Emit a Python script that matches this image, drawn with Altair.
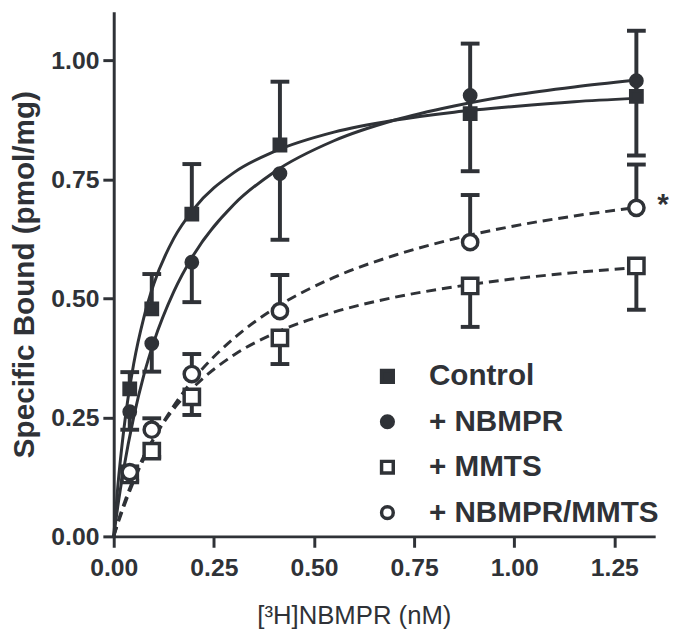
import altair as alt
import pandas as pd

C = "#2f3237"
FONT = "Liberation Sans"

series_names = ["Control", "+ NBMPR", "+ MMTS", "+ NBMPR/MMTS"]
filled_series = ["Control", "+ NBMPR"]
open_series = ["+ MMTS", "+ NBMPR/MMTS"]

# measured concentrations (nM)
conc = [0.04, 0.095, 0.195, 0.415, 0.89, 1.305]

control = [0.310, 0.478, 0.677, 0.822, 0.888, 0.924]
control_err = [0.035, 0.073, 0.105, 0.133, 0.147, 0.138]
nbmpr = [0.262, 0.405, 0.576, 0.762, 0.926, 0.957]
nbmpr_err = [0.038, 0.059, 0.084, 0.139, 0.159, 0.157]
mmts = [0.129, 0.179, 0.293, 0.417, 0.526, 0.568]
mmts_err = [0.012, 0.012, 0.038, 0.055, 0.086, 0.092]
nbmpr_mmts = [0.135, 0.224, 0.341, 0.473, 0.618, 0.690]
nbmpr_mmts_err = [0.012, 0.024, 0.042, 0.076, 0.099, 0.091]
# error bar direction drawn (+1 up, -1 down)
err_dir = [1, -1, -1, 1]

# fitted curves
curve_x = [0, 0.01, 0.025, 0.05, 0.075, 0.1, 0.15, 0.2, 0.3, 0.4, 0.55, 0.7, 0.85, 1.0, 1.15, 1.3]
curve_control = [0, 0.103, 0.223, 0.363, 0.459, 0.530, 0.626, 0.688, 0.764, 0.808, 0.849, 0.874, 0.891, 0.903, 0.913, 0.920]
curve_nbmpr = [0, 0.062, 0.142, 0.251, 0.338, 0.408, 0.514, 0.592, 0.697, 0.765, 0.831, 0.874, 0.904, 0.927, 0.944, 0.958]
curve_mmts = [0, 0.029, 0.067, 0.122, 0.168, 0.206, 0.268, 0.314, 0.381, 0.426, 0.471, 0.502, 0.524, 0.541, 0.554, 0.564]
curve_nbmpr_mmts = [0, 0.026, 0.062, 0.116, 0.163, 0.205, 0.274, 0.331, 0.416, 0.478, 0.544, 0.590, 0.625, 0.652, 0.673, 0.690]

star_x = [1.305]
star_y = [0.690]
star_text = ["*"]

x_ticks = [0, 0.25, 0.5, 0.75, 1.0, 1.25]
y_ticks = [0, 0.25, 0.5, 0.75, 1.0]

ys = [control, nbmpr, mmts, nbmpr_mmts]
errs = [control_err, nbmpr_err, mmts_err, nbmpr_mmts_err]
curves = [curve_control, curve_nbmpr, curve_mmts, curve_nbmpr_mmts]

pts_rows = []
for s, yv, ev, d in zip(series_names, ys, errs, err_dir):
    for x, y, e in zip(conc, yv, ev):
        pts_rows.append({"series": s, "x": x, "y": y, "yend": y + d * e})
pts = pd.DataFrame(pts_rows)

cur_rows = []
for s, cv in zip(series_names, curves):
    for x, y in zip(curve_x, cv):
        cur_rows.append({"series": s, "x": x, "y": y})
cur = pd.DataFrame(cur_rows)

star = pd.DataFrame({"x": star_x, "y": star_y, "t": star_text})

xscale = alt.Scale(domain=[0, 1.352], nice=False, zero=False)
yscale = alt.Scale(domain=[0, 1.102], nice=False, zero=False)

xaxis = alt.Axis(values=x_ticks, format=".2f", title="[³H]NBMPR (nM)",
                 titleFontWeight="normal", titleFontSize=26, titleX=243,
                 titleAlign="center", titlePadding=22, labelFlush=False)
yaxis = alt.Axis(values=y_ticks, format=".2f", title="Specific Bound (pmol/mg)",
                 titleFontWeight="bold", titleFontSize=30, titleAngle=270,
                 titleBaseline="alphabetic", titleX=-81, titleY=265.6,
                 titleAlign="center", labelFlush=False)

X = alt.X("x:Q", scale=xscale, axis=xaxis)
Y = alt.Y("y:Q", scale=yscale, axis=yaxis)

lines_solid = alt.Chart(cur).transform_filter(
    alt.FieldOneOfPredicate(field="series", oneOf=filled_series)
).mark_line(strokeWidth=3, color=C, interpolate="monotone").encode(
    x=X, y=Y, detail="series:N",
)
lines_dash = alt.Chart(cur).transform_filter(
    alt.FieldOneOfPredicate(field="series", oneOf=open_series)
).mark_line(strokeWidth=3, color=C, interpolate="monotone", strokeDash=[10, 6]).encode(
    x=X, y=Y, detail="series:N",
)

bars = alt.Chart(pts).mark_rule(strokeWidth=4, color=C).encode(
    x=X, y=Y, y2="yend:Q"
)

caps = alt.Chart(pts).mark_point(shape="M-1,0L1,0", size=361, strokeWidth=4,
                                 color=C, opacity=1, filled=False).encode(
    x=X, y=alt.Y("yend:Q", scale=yscale)
)

legend = alt.Legend(title=None, orient="none", legendX=262, legendY=354,
                    labelFontSize=30, labelFontWeight="bold", labelFont=FONT,
                    labelColor=C, symbolStrokeWidth=3.5, labelLimit=0,
                    symbolSize=140, labelOffset=27, rowPadding=16, padding=0)

shape_enc = alt.Shape("series:N", scale=alt.Scale(domain=series_names,
                      range=["square", "circle", "square", "circle"]), legend=legend)
fill_enc = alt.Fill("series:N", scale=alt.Scale(domain=series_names,
                    range=[C, C, "white", "white"]), legend=legend)
stroke_enc = alt.Stroke("series:N", scale=alt.Scale(domain=series_names,
                        range=[C, C, C, C]), legend=legend)

marks_filled = alt.Chart(pts).transform_filter(
    alt.FieldOneOfPredicate(field="series", oneOf=filled_series)
).mark_point(strokeWidth=3.5, opacity=1, size=132).encode(
    x=X, y=Y, shape=shape_enc, fill=fill_enc, stroke=stroke_enc,
)

marks_open = alt.Chart(pts).transform_filter(
    alt.FieldOneOfPredicate(field="series", oneOf=open_series)
).mark_point(strokeWidth=3.5, opacity=1, size=240).encode(
    x=X, y=Y, shape=shape_enc, fill=fill_enc, stroke=stroke_enc,
)

stars = alt.Chart(star).mark_text(text="*", fontSize=30, fontWeight="bold", font=FONT,
                                  color=C, dx=27, dy=-3, baseline="middle").encode(
    x=X, y=Y
)

chart = alt.layer(lines_solid, lines_dash, bars, caps, marks_filled, marks_open, stars).properties(
    width=548, height=531,
    autosize=alt.AutoSizeParams(type="none"),
    padding={"left": 107, "top": 0, "right": 16, "bottom": 92},
).configure_view(stroke=None).configure_axis(
    labelFont=FONT, titleFont=FONT, labelFontSize=25, labelFontWeight="bold",
    labelColor=C, titleColor=C, tickColor=C, domainColor=C, tickSize=11,
    tickWidth=3, domainWidth=3, grid=False, labelPadding=4,
).configure_axisX(labelPadding=9)

chart.save("out.html", embed_options={"renderer": "svg", "actions": False})
